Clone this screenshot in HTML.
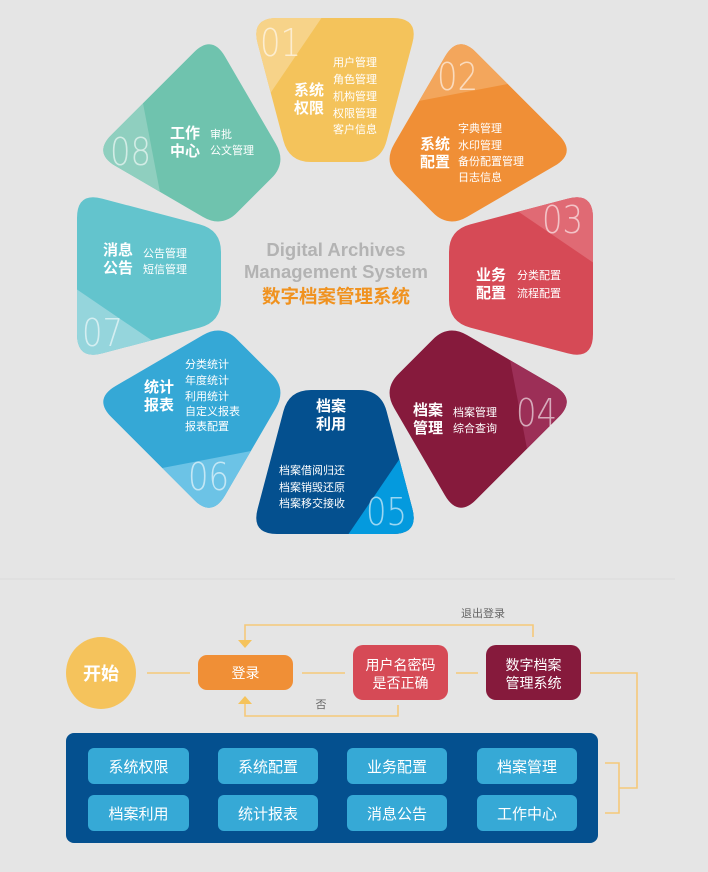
<!DOCTYPE html>
<html><head><meta charset="utf-8"><style>
html,body{margin:0;padding:0;background:#e5e5e5;}
svg{display:block;font-family:"Liberation Sans","Noto Sans CJK SC",sans-serif;}
</style></head><body>
<svg width="708" height="872" viewBox="0 0 708 872" xmlns="http://www.w3.org/2000/svg">
<rect width="708" height="872" fill="#e5e5e5"/>
<defs>
<clipPath id="pc">
<path d="M-58,-258 L58,-258 Q84,-258 77.4,-232.9 L51.6,-135.3 Q46,-114 24,-114 L-24,-114 Q-46,-114 -51.6,-135.3 L-77.4,-232.9 Q-84,-258 -58,-258 Z"/>
</clipPath>
</defs>
<g transform="translate(335,276)">
<g transform="rotate(0)"><g clip-path="url(#pc)"><rect x="-120" y="-270" width="240" height="160" fill="#f4c35b"/><polygon points="-2,-275 -72,-172 -150,-172 -150,-275" fill="#f7d389"/></g></g>
<g transform="rotate(45)"><g clip-path="url(#pc)"><rect x="-120" y="-270" width="240" height="160" fill="#f08f36"/><polygon points="-2,-275 -72,-172 -150,-172 -150,-275" fill="#f3a65c"/></g></g>
<g transform="rotate(90)"><g clip-path="url(#pc)"><rect x="-120" y="-270" width="240" height="160" fill="#d64a56"/><polygon points="-2,-275 -72,-172 -150,-172 -150,-275" fill="#e06a74"/></g></g>
<g transform="rotate(135)"><g clip-path="url(#pc)"><rect x="-120" y="-270" width="240" height="160" fill="#861a3c"/><polygon points="-2,-275 -72,-172 -150,-172 -150,-275" fill="#9c2f57"/></g></g>
<g transform="rotate(180)"><g clip-path="url(#pc)"><rect x="-120" y="-270" width="240" height="160" fill="#04508f"/><polygon points="-2,-275 -72,-172 -150,-172 -150,-275" fill="#049ade"/></g></g>
<g transform="rotate(225)"><g clip-path="url(#pc)"><rect x="-120" y="-270" width="240" height="160" fill="#35a8d6"/><polygon points="-2,-275 -72,-172 -150,-172 -150,-275" fill="#6cc3e6"/></g></g>
<g transform="rotate(270)"><g clip-path="url(#pc)"><rect x="-120" y="-270" width="240" height="160" fill="#63c4cd"/><polygon points="-2,-275 -72,-172 -150,-172 -150,-275" fill="#95d5dc"/></g></g>
<g transform="rotate(315)"><g clip-path="url(#pc)"><rect x="-120" y="-270" width="240" height="160" fill="#6fc3ae"/><polygon points="-2,-275 -72,-172 -150,-172 -150,-275" fill="#8fcfbf"/></g></g>
</g>
<g fill="#fff" fill-opacity="0.6" font-size="38" font-family="'DejaVu Sans','Liberation Sans',sans-serif" font-weight="200">
<text transform="translate(260,56) scale(0.85,1)">01</text>
<text transform="translate(437,90) scale(0.85,1)">02</text>
<text transform="translate(542,233) scale(0.85,1)">03</text>
<text transform="translate(516,426) scale(0.85,1)">04</text>
<text transform="translate(366,525) scale(0.85,1)">05</text>
<text transform="translate(188,490) scale(0.85,1)">06</text>
<text transform="translate(82,346) scale(0.85,1)">07</text>
<text transform="translate(110,165) scale(0.85,1)">08</text>
</g>
<g fill="#fff" font-weight="bold" font-size="15">
<text x="294" y="95">系统</text><text x="294" y="113">权限</text>
<text x="420" y="149">系统</text><text x="420" y="167">配置</text>
<text x="476" y="280">业务</text><text x="476" y="298">配置</text>
<text x="413" y="415">档案</text><text x="413" y="433">管理</text>
<text x="316" y="411">档案</text><text x="316" y="429">利用</text>
<text x="144" y="392">统计</text><text x="144" y="410">报表</text>
<text x="103" y="255">消息</text><text x="103" y="273">公告</text>
<text x="170" y="138">工作</text><text x="170" y="156">中心</text>
</g>
<g fill="#fff" font-size="11">
<text x="333" y="66">用户管理</text><text x="333" y="83">角色管理</text><text x="333" y="100">机构管理</text><text x="333" y="117">权限管理</text><text x="333" y="133">客户信息</text>
<text x="458" y="132">字典管理</text><text x="458" y="149">水印管理</text><text x="458" y="165">备份配置管理</text><text x="458" y="181">日志信息</text>
<text x="517" y="279">分类配置</text><text x="517" y="297">流程配置</text>
<text x="453" y="416">档案管理</text><text x="453" y="432">综合查询</text>
<text x="279" y="474">档案借阅归还</text><text x="279" y="491">档案销毁还原</text><text x="279" y="507">档案移交接收</text>
<text x="185" y="368">分类统计</text><text x="185" y="384">年度统计</text><text x="185" y="400">利用统计</text><text x="185" y="415">自定义报表</text><text x="185" y="430">报表配置</text>
<text x="143" y="257">公告管理</text><text x="143" y="273">短信管理</text>
<text x="210" y="138">审批</text><text x="210" y="154">公文管理</text>
</g>
<g text-anchor="middle" font-weight="bold">
<text x="336" y="256" font-size="18.5" fill="#b3b3b3">Digital Archives</text>
<text x="336" y="278" font-size="18.5" fill="#b3b3b3">Management System</text>
<text x="336" y="303" font-size="18.5" fill="#f0921f">数字档案管理系统</text>
</g>
<line x1="0" y1="579" x2="675" y2="579" stroke="#dadada" stroke-width="1"/>
<g fill="none" stroke="#f5c97a" stroke-width="1.6">
<line x1="147" y1="673" x2="190" y2="673"/>
<line x1="302" y1="673" x2="345" y2="673"/>
<line x1="456" y1="673" x2="478" y2="673"/>
<polyline points="533,637 533,625 245,625 245,640"/>
<polyline points="398,705 398,716 245,716 245,703"/>
<polyline points="590,673 637,673 637,788 619,788"/>
<polyline points="605,763 619,763 619,813 605,813"/>
</g>
<polygon points="238,640 252,640 245,648" fill="#f5c35c"/>
<polygon points="238,704 252,704 245,696" fill="#f5c35c"/>
<text x="483" y="617" font-size="11" fill="#666" text-anchor="middle">退出登录</text>
<text x="321" y="708" font-size="11" fill="#666" text-anchor="middle">否</text>
<ellipse cx="101" cy="673" rx="35" ry="36" fill="#f5c35c"/>
<text x="101" y="680" font-size="18" font-weight="bold" fill="#fff" text-anchor="middle">开始</text>
<rect x="198" y="655" width="95" height="35" rx="9" fill="#f08f36"/>
<text x="245.5" y="678" font-size="14" fill="#fff" text-anchor="middle">登录</text>
<rect x="353" y="645" width="95" height="55" rx="10" fill="#d64a56"/>
<text x="400.5" y="670" font-size="14" fill="#fff" text-anchor="middle">用户名密码</text>
<text x="400.5" y="688" font-size="14" fill="#fff" text-anchor="middle">是否正确</text>
<rect x="486" y="645" width="95" height="55" rx="10" fill="#861a3c"/>
<text x="533.5" y="670" font-size="14" fill="#fff" text-anchor="middle">数字档案</text>
<text x="533.5" y="688" font-size="14" fill="#fff" text-anchor="middle">管理系统</text>
<rect x="66" y="733" width="532" height="110" rx="8" fill="#04508f"/>
<g fill="#36a9d6">
<rect x="88" y="748" width="101" height="36" rx="6"/><rect x="218" y="748" width="100" height="36" rx="6"/><rect x="347" y="748" width="100" height="36" rx="6"/><rect x="477" y="748" width="100" height="36" rx="6"/>
<rect x="88" y="795" width="101" height="36" rx="6"/><rect x="218" y="795" width="100" height="36" rx="6"/><rect x="347" y="795" width="100" height="36" rx="6"/><rect x="477" y="795" width="100" height="36" rx="6"/>
</g>
<g fill="#fff" font-size="15" text-anchor="middle">
<text x="138.5" y="772">系统权限</text><text x="268" y="772">系统配置</text><text x="397" y="772">业务配置</text><text x="527" y="772">档案管理</text>
<text x="138.5" y="819">档案利用</text><text x="268" y="819">统计报表</text><text x="397" y="819">消息公告</text><text x="527" y="819">工作中心</text>
</g>
</svg>
</body></html>
